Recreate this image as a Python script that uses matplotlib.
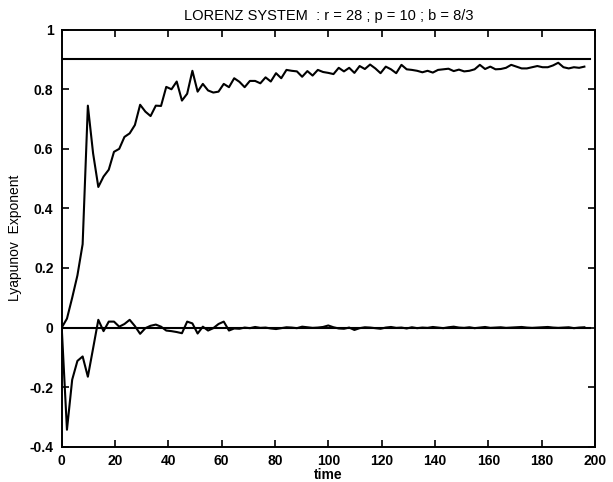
import matplotlib.pyplot as plt
import numpy as np

plt.rcParams['font.family'] = ['Liberation Sans', 'DejaVu Sans']

dt = 1.96

upper = [0.0, 0.03, 0.1, 0.175, 0.28, 0.745, 0.585, 0.472, 0.507, 0.53,
         0.59, 0.60, 0.64, 0.652, 0.68, 0.748, 0.725, 0.71, 0.745, 0.744,
         0.808, 0.80, 0.826, 0.762, 0.785, 0.862, 0.792, 0.818, 0.796, 0.789,
         0.792, 0.818, 0.807, 0.837, 0.825, 0.807, 0.828, 0.828, 0.82, 0.84,
         0.826, 0.854, 0.837, 0.865, 0.862, 0.86, 0.842, 0.861, 0.846, 0.865,
         0.858, 0.855, 0.851, 0.872, 0.86, 0.872, 0.855, 0.878, 0.868, 0.883,
         0.87, 0.854, 0.876, 0.867, 0.854, 0.882, 0.867, 0.865, 0.862, 0.857,
         0.862, 0.856, 0.865, 0.867, 0.869, 0.861, 0.866, 0.86, 0.862, 0.867,
         0.882, 0.868, 0.876, 0.867, 0.868, 0.872, 0.882, 0.876, 0.87, 0.87,
         0.874, 0.878, 0.874, 0.874, 0.88, 0.889, 0.874, 0.87, 0.874, 0.872,
         0.876]

lower = [0.0, -0.343, -0.175, -0.112, -0.097, -0.165, -0.07, 0.026, -0.012, 0.02,
         0.02, 0.003, 0.012, 0.026, 0.005, -0.021, -0.002, 0.006, 0.01, 0.003,
         -0.01, -0.012, -0.015, -0.019, 0.02, 0.014, -0.02, 0.003, -0.01, -0.002,
         0.012, 0.02, -0.01, -0.003, -0.004, 0.0, -0.002, 0.002, -0.001, 0.0,
         -0.003, -0.005, -0.002, 0.001, 0.0, -0.002, 0.003, 0.001, -0.001, 0.0,
         0.002, 0.007, 0.001, -0.003, -0.004, 0.0, -0.008, -0.002, 0.001, 0.0,
         -0.002, -0.004, 0.0, 0.002, -0.001, 0.0, -0.003, 0.001, -0.002, 0.0,
         -0.001, 0.002, 0.0, -0.002, 0.001, 0.003, 0.0, -0.001, 0.001, -0.002,
         0.0, 0.002, -0.001, 0.0, 0.001, -0.001, 0.0, 0.001, 0.002, 0.0,
         -0.001, 0.0, 0.001, 0.002, 0.0, -0.001, 0.0, 0.001, -0.002, 0.0,
         0.001]

time = np.arange(len(upper)) * dt
ref_levels = [0.9, 0.0]

fig = plt.figure(figsize=(6.13, 4.82), dpi=100)
ax = fig.add_axes([0.1007, 0.0732, 0.8700, 0.8652])

for lev in ref_levels:
    ax.plot([0, 198], [lev, lev], color='k', linewidth=1.5)
ax.plot(time, upper, color='k', linewidth=1.5)
ax.plot(time, lower, color='k', linewidth=1.5)

ax.set_xlim(0, 200)
ax.set_ylim(-0.4, 1)
ax.set_xticks(range(0, 201, 20))
ax.set_yticks([-0.4, -0.2, 0, 0.2, 0.4, 0.6, 0.8, 1])
ax.set_yticklabels(['-0.4', '-0.2', '0', '0.2', '0.4', '0.6', '0.8', '1'])
ax.tick_params(direction='in', top=True, right=True, length=5, width=1.2,
               labelsize=10)
ax.tick_params(axis='y', pad=6)
ax.tick_params(axis='x', pad=5)
for lab in ax.get_xticklabels() + ax.get_yticklabels():
    lab.set_fontweight('bold')
for s in ax.spines.values():
    s.set_linewidth(1.4)

ax.set_xlabel('time', fontsize=10, fontweight='bold', labelpad=0)
ax.set_ylabel('Lyapunov  Exponent', fontsize=10, labelpad=5)
ax.set_title('LORENZ SYSTEM  : r = 28 ; p = 10 ; b = 8/3', fontsize=10.5, pad=7)

fig.savefig('out.png', dpi=100)
